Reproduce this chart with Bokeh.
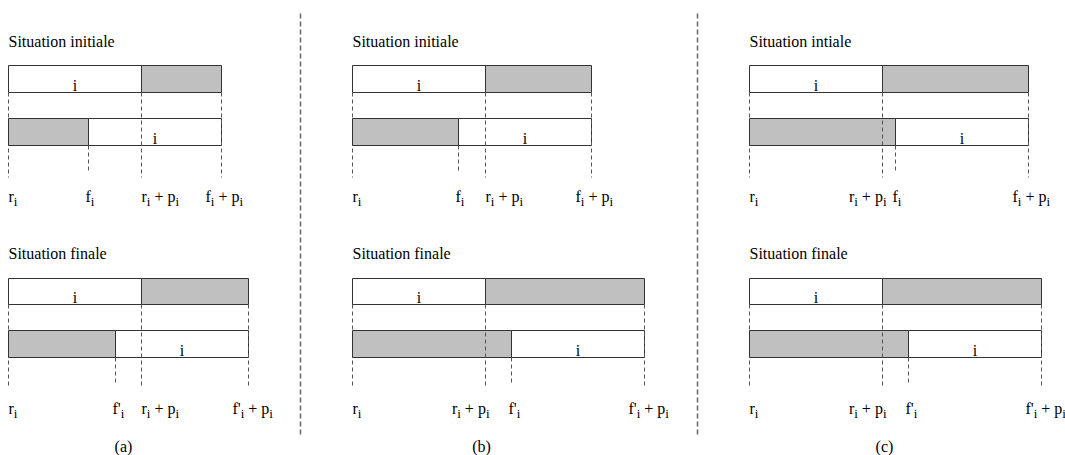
from bokeh.plotting import figure
from bokeh.models import Range1d, ColumnDataSource
from bokeh.core.properties import value
from bokeh.embed import file_html
from bokeh.resources import INLINE

# ---------------- data ----------------
panels = ["(a)", "(b)", "(c)"]
titles_initial = ["Situation initiale", "Situation initiale", "Situation intiale"]
title_final = "Situation finale"
task_label = "i"
p_i = [133, 133, 133]          # processing time p_i (time units)
f_initial = [80, 106, 146]     # f_i  - r_i
f_final = [107, 159, 159]      # f'_i - r_i

# ---------------- layout / style ----------------
origins = [8, 352, 749]
caption_x = [123, 481, 884]
caption_y = 446
separators_x = [300, 697]
sep_y = (13, 437)
stages = [
    dict(final=False, title_y=41, bar1=(65, 92), bar2=(118, 145), long_end=177, short_end=171, label_y=196),
    dict(final=True, title_y=253, bar1=(278, 304), bar2=(330, 357), long_end=388, short_end=383, label_y=408),
]
FONT = value("Liberation Serif")
MAIN = 16
SUB = 13
GRAY = "#c0c0c0"
EDGE = "#333333"
DASH = "#555555"
NB = "\u00a0"
ADV = {"r": .333, "f": .333, "p": .5, "i": .278, "+": .564, " ": .25, NB: .25, "'": .18}


def tw(s, size):
    return sum(ADV.get(c, .5) for c in s) * size


p = figure(width=1065, height=455, output_backend="svg", toolbar_location=None,
           x_axis_type=None, y_axis_type=None, min_border=0,
           x_range=Range1d(0, 1065), y_range=Range1d(455, 0))
p.outline_line_color = None
p.grid.visible = False
p.background_fill_color = "white"

white_q = dict(left=[], right=[], top=[], bottom=[])
gray_q = dict(left=[], right=[], top=[], bottom=[])
under = dict(x0=[], y0=[], x1=[], y1=[])
over = dict(x0=[], y0=[], x1=[], y1=[])
main_t = dict(x=[], y=[], text=[])
sub_t = dict(x=[], y=[], text=[])
bar_t = dict(x=[], y=[], text=[])
title_t = dict(x=[], y=[], text=[])


def add_q(d, l, r, t, b):
    d["left"].append(l); d["right"].append(r); d["top"].append(t); d["bottom"].append(b)


def add_s(d, x, y0, y1):
    d["x0"].append(x); d["x1"].append(x); d["y0"].append(y0); d["y1"].append(y1)


def add_label(parts, x, y):
    cx = x
    for s, is_sub in parts:
        if is_sub:
            sub_t["x"].append(cx); sub_t["y"].append(y + 5); sub_t["text"].append(s)
            cx += tw(s, SUB)
        else:
            main_t["x"].append(cx); main_t["y"].append(y); main_t["text"].append(s)
            cx += tw(s, MAIN)
    return cx - x


def label_width(parts):
    return sum(tw(s, SUB if sub else MAIN) for s, sub in parts)


PLUS_P = NB + "+" + NB + "p"

for k in range(len(panels)):
    o = origins[k]
    for st in stages:
        fin = st["final"]
        f_rel = f_final[k] if fin else f_initial[k]
        r = o
        rp = o + p_i[k]
        f = o + f_rel
        fp = o + f_rel + p_i[k]
        t1, b1 = st["bar1"]
        t2, b2 = st["bar2"]
        title_t["x"].append(o); title_t["y"].append(st["title_y"])
        title_t["text"].append(title_final if fin else titles_initial[k])
        # bar 1: task i then gap
        add_q(white_q, r, rp, t1, b1)
        add_q(gray_q, rp, fp, t1, b1)
        bar_t["x"].append((r + rp) / 2); bar_t["y"].append(b1 - 7); bar_t["text"].append(task_label)
        # bar 2: gap then task i
        add_q(gray_q, r, f, t2, b2)
        add_q(white_q, f, fp, t2, b2)
        bar_t["x"].append((f + fp) / 2); bar_t["y"].append(b2 - 7); bar_t["text"].append(task_label)
        # dashed guides
        add_s(under, r, b1, st["long_end"])
        add_s(under, f, b2, st["short_end"])
        add_s(over, rp, b1, st["long_end"])
        add_s(over, fp, b1, st["long_end"])
        # labels
        fch = "f'" if fin else "f"
        ly = st["label_y"]
        add_label([("r", False), ("i", True)], r, ly)
        add_label([(fch, False), ("i", True)], f - 3, ly)
        rp_parts = [("r", False), ("i", True), (PLUS_P, False), ("i", True)]
        if 0 < f - rp < 35:
            add_label(rp_parts, rp - label_width(rp_parts) + 4, ly)
        else:
            add_label(rp_parts, rp, ly)
        fp_parts = [(fch, False), ("i", True), (PLUS_P, False), ("i", True)]
        add_label(fp_parts, fp - 16, ly)

# separators
sep = dict(x0=[], y0=[], x1=[], y1=[])
for x in separators_x:
    add_s(sep, x, sep_y[0], sep_y[1])
p.segment("x0", "y0", "x1", "y1", source=ColumnDataSource(sep), line_color="#666666",
          line_width=1.5, line_dash="5 3")

p.segment("x0", "y0", "x1", "y1", source=ColumnDataSource(under), line_color=DASH,
          line_width=1, line_dash="4 3")
p.quad(source=ColumnDataSource(white_q), fill_color="white", line_color=EDGE, line_width=1)
p.quad(source=ColumnDataSource(gray_q), fill_color=GRAY, line_color=EDGE, line_width=1)
p.segment("x0", "y0", "x1", "y1", source=ColumnDataSource(over), line_color=DASH,
          line_width=1, line_dash="4 3")

common = dict(text_font=FONT, text_color="black", text_baseline="alphabetic")
p.text("x", "y", "text", source=ColumnDataSource(title_t), text_font_size=f"{MAIN}px",
       text_align="left", **common)
p.text("x", "y", "text", source=ColumnDataSource(bar_t), text_font_size=f"{MAIN}px",
       text_align="center", **common)
p.text("x", "y", "text", source=ColumnDataSource(main_t), text_font_size=f"{MAIN}px",
       text_align="left", **common)
p.text("x", "y", "text", source=ColumnDataSource(sub_t), text_font_size=f"{SUB}px",
       text_align="left", **common)
cap = dict(x=caption_x, y=[caption_y] * len(panels), text=panels)
p.text("x", "y", "text", source=ColumnDataSource(cap), text_font_size=f"{MAIN}px",
       text_align="center", **common)

open("out.html", "w").write(file_html(p, INLINE))
